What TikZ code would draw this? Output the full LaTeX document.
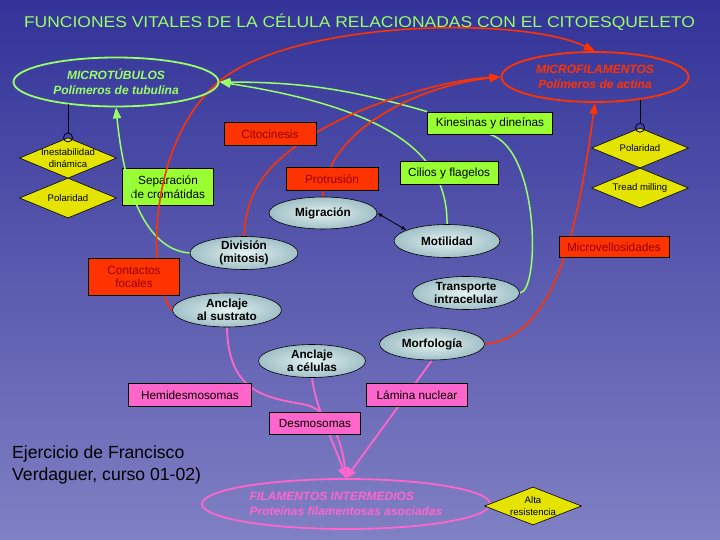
\documentclass[tikz,border=0pt]{standalone}
\usepackage{fontspec}
\setmainfont{Liberation Sans}
\usepackage{graphicx}
\usetikzlibrary{shapes.geometric,arrows.meta,calc}
\definecolor{bgtop}{RGB}{51,51,153}
\definecolor{bgbot}{RGB}{128,128,196}
\definecolor{limef}{RGB}{153,255,51}
\definecolor{limeline}{RGB}{153,255,102}
\definecolor{redf}{RGB}{255,51,0}
\definecolor{redtext}{RGB}{150,0,0}
\definecolor{pinkf}{RGB}{255,102,204}
\definecolor{yel}{RGB}{228,228,0}
\definecolor{ellin}{RGB}{228,242,242}
\definecolor{ellout}{RGB}{160,192,198}
\pgfdeclarelayer{bg}
\pgfdeclarelayer{edges}
\pgfsetlayers{bg,edges,main}
\tikzset{
  box/.style={draw=black, line width=0.8pt, rectangle, inner sep=0pt, align=center,
    font=\fontsize{11.8}{13.5}\selectfont},
  redbox/.style={box, fill=redf, text=redtext},
  greenbox/.style={box, fill=limef, text=black},
  pinkbox/.style={box, fill=pinkf, text=black},
  func/.style={ellipse, draw=black, line width=0.6pt, shade, inner color=ellin, outer color=ellout,
    inner xsep=0pt, inner ysep=-6pt, align=center, font=\fontsize{11.8}{13.3}\selectfont\bfseries},
  bigell/.style={ellipse, line width=1.8pt, inner sep=-8pt, align=center,
    font=\fontsize{12}{14.5}\selectfont\bfseries\itshape},
  dia/.style={diamond, draw=black, line width=0.6pt, fill=yel, inner sep=-8pt, align=center,
    font=\fontsize{9.6}{11.5}\selectfont, minimum width=97pt, minimum height=40pt},
  ring/.style={circle, draw=black!80!blue, line width=0.8pt, inner sep=0pt, minimum size=9pt},
  gline/.style={draw=limeline, line width=1.5pt},
  rline/.style={draw=redf, line width=1.6pt},
  pline/.style={draw=pinkf, line width=1.8pt},
  garrow/.style={gline, -{Triangle[length=11pt,width=8pt]}},
  rarrow/.style={rline, -{Triangle[length=11pt,width=8pt]}},
  parrow/.style={pline, -{Triangle[length=10pt,width=10pt]}},
  blackline/.style={draw=black, line width=0.8pt},
}
\begin{document}
\begin{tikzpicture}[x=1pt,y=-1pt]
\useasboundingbox (0,0) rectangle (720,540);
\begin{pgfonlayer}{bg}
\shade[top color=bgtop, bottom color=bgbot] (0,0) rectangle (720,540);
\node[greenbox, minimum width=91pt, minimum height=37pt] (sep) at (168,187) {Separación\\de cromátidas};
\end{pgfonlayer}

% title and author
\node[text=limeline, inner sep=0pt] (title) at (359.5,22)
  {\scalebox{1.12}[1]{\fontsize{15.6}{18}\selectfont FUNCIONES VITALES DE LA CÉLULA RELACIONADAS CON EL CITOESQUELETO}};
\node[anchor=north west, align=left, inner sep=0pt, text=black, font=\fontsize{17.6}{22.4}\selectfont] (author) at (12,445.5)
  {Ejercicio de Francisco\\Verdaguer, curso 01-02)};

% main structures
\node[bigell, draw=limeline, text=limeline, minimum width=205pt, minimum height=49pt] (mt) at (116,82)
  {MICROTÚBULOS\\Polímeros de tubulina};
\node[bigell, draw=redf, text=redf, minimum width=187pt, minimum height=50pt] (mf) at (595,77)
  {MICROFILAMENTOS\\Polímeros de actina};
\node[bigell, draw=pinkf, text=pinkf, minimum width=288pt, minimum height=50pt, align=left] (fi) at (346,504)
  {FILAMENTOS INTERMEDIOS\\Proteínas filamentosas asociadas};

% properties
\node[dia] (inest) at (68,158) {Inestabilidad\\dinámica};
\node[dia] (polL) at (68,198) {Polaridad};
\node[dia] (polR) at (640,148) {Polaridad};
\node[dia] (tread) at (640,188) {Tread milling};
\node[dia, minimum height=38pt] (alta) at (533,506) {Alta\\resistencia};
\node[ring] (c1) at (inest.north) {};
\node[ring] (c2) at (polR.north) {};

% boxes
\node[redbox, minimum width=92pt, minimum height=23pt] (cito) at (270,134) {Citocinesis};
\node[redbox, minimum width=92pt, minimum height=23pt] (protr) at (332,179) {Protrusión};
\node[redbox, minimum width=110pt, minimum height=21pt] (micro) at (614,247) {Microvellosidades};
\node[redbox, minimum width=91pt, minimum height=37pt] (cont) at (134,277) {Contactos\\focales};
\node[greenbox, minimum width=125pt, minimum height=22pt] (kin) at (490,123) {Kinesinas y dineínas};
\node[greenbox, minimum width=98pt, minimum height=23pt] (cil) at (449,173) {Cilios y flagelos};
\node[pinkbox, minimum width=123pt, minimum height=23pt] (hemi) at (190,395) {Hemidesmosomas};
\node[pinkbox, minimum width=101pt, minimum height=23pt] (lam) at (417,395) {Lámina nuclear};
\node[pinkbox, minimum width=91pt, minimum height=22pt] (desm) at (315,423) {Desmosomas};

% functions
\node[func, minimum width=108pt, minimum height=32pt] (mig) at (323,213) {Migración};
\node[func, minimum width=106pt, minimum height=33pt] (mot) at (447,241) {Motilidad};
\node[func, minimum width=108pt, minimum height=33pt] (div) at (244,253) {División\\(mitosis)};
\node[func, minimum width=109pt, minimum height=34pt] (ancsus) at (227,310) {Anclaje\\al sustrato};
\node[func, minimum width=107pt, minimum height=33pt] (trans) at (466,293) {Transporte\\intracelular};
\node[func, minimum width=105pt, minimum height=32pt] (morf) at (432,344) {Morfología};
\node[func, minimum width=107pt, minimum height=33pt] (acel) at (312,361) {Anclaje\\a células};

\begin{pgfonlayer}{edges}
% green
\draw[garrow] (kin.north west) to[bend right=8] (mt.east);
\draw[garrow] (mot.north) .. controls (448,160) and (400,110) .. (mt.east);
\draw[gline] (trans.east) .. controls (540,292) and (540,150) .. (kin.south);
\draw[garrow] (div.west) .. controls (150,250) and (125,200) .. (mt.south);
% red
\draw[rarrow] (ancsus.west) .. controls (148,285) and (145,150) .. (215,85)
  .. controls (285,20) and (520,15) .. (mf.north);
\draw[rarrow] (div.north) .. controls (246,185) and (275,160) .. ($(cito.center)+(35,6)$)
  .. controls (350,108) and (440,80) .. (mf.west);
\draw[rarrow] (mig.north) .. controls (326,130) and (420,85) .. (mf.west);
\draw[rarrow] (morf.east) .. controls (560,338) and (580,210) .. (mf.south);
% pink
\draw[parrow] (ancsus.south) .. controls (228,395) and (270,398) .. ($(desm.north)+(-10,-7)$)
  .. controls (330,410) and (342,440) .. (fi.north);
\draw[parrow] (acel.south) .. controls (316,410) and (335,445) .. (fi.north);
\draw[parrow] (morf.south) -- (fi.north);
\end{pgfonlayer}

% black links
\draw[blackline, {Latex[length=5pt,width=4pt]}-{Latex[length=5pt,width=4pt]}] (mig.east) -- (mot.165);
\draw[blackline] (c1.north) -- (c1.north |- mt.203);
\draw[blackline] (c2.north) -- (c2.north |- mf.333);
\end{tikzpicture}
\end{document}
